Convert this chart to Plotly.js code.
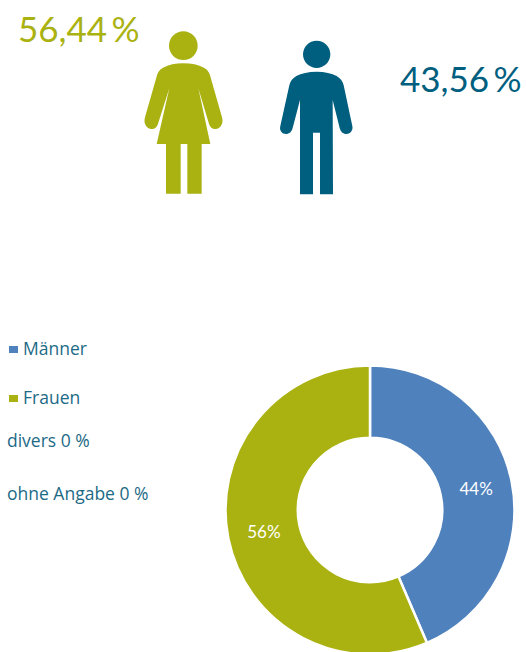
<!DOCTYPE html>
<html>
<head>
<meta charset="utf-8">
<script src="https://cdn.plot.ly/plotly-3.0.1.min.js"></script>
<style>html,body{margin:0;padding:0;background:#fff;overflow:hidden;height:652px}#c{width:526px;height:652px;overflow:hidden}</style>
</head>
<body>
<div id="c"></div>
<script>
const categories = ['Männer', 'Frauen'];
const values = [43.56, 56.44];
const sliceColors = ['#4f81bd', '#aab212'];
const headlineWoman = '56,44\u2009%';
const headlineMan = '43,56\u2009%';
const extraLabels = ['divers 0 %', 'ohne Angabe 0 %'];
const olive = '#aab212', teal = '#005f7f', labelTeal = '#1d6a86';
// the ring runs off the bottom of the page, so the plot is a little taller than the window
const W = 526, H = 662;

const px = (x, y) => (x / W).toFixed(5) + ',' + (1 - y / H).toFixed(5);
// icon outlines, traced in a 3x crop whose origin is at page (130,20)
const z = (x, y) => px(130 + x / 3, 20 + y / 3);
function iconPath(cmds) {
  return cmds.map(c => c[0] + ' ' + c.slice(1).map(p => z(p[0], p[1])).join(' ')).join(' ') + ' Z';
}
function circle(cx, cy, r) {
  const k = r * 0.5523;
  return iconPath([
    ['M', [cx + r, cy]],
    ['C', [cx + r, cy + k], [cx + k, cy + r], [cx, cy + r]],
    ['C', [cx - k, cy + r], [cx - r, cy + k], [cx - r, cy]],
    ['C', [cx - r, cy - k], [cx - k, cy - r], [cx, cy - r]],
    ['C', [cx + k, cy - r], [cx + r, cy - k], [cx + r, cy]]
  ]);
}
const womanBody = iconPath([
  ['M', [160, 130]],
  ['C', [185, 130], [205, 134], [222, 143]],
  ['C', [232, 148], [237, 156], [240, 166]],
  ['L', [276, 292]],
  ['C', [282, 312], [270, 327], [257, 327]],
  ['C', [246, 327], [239, 320], [236, 308]],
  ['L', [205, 205]],
  ['L', [241, 372]], ['L', [215, 372]], ['L', [215, 521]], ['L', [172, 521]], ['L', [172, 372]],
  ['L', [152, 372]], ['L', [152, 521]], ['L', [108, 521]], ['L', [108, 372]], ['L', [80, 372]],
  ['L', [118, 205]],
  ['L', [85, 308]],
  ['C', [82, 320], [75, 327], [64, 327]],
  ['C', [51, 327], [39, 312], [45, 292]],
  ['L', [81, 166]],
  ['C', [84, 156], [89, 148], [99, 143]],
  ['C', [116, 134], [136, 130], [160, 130]]
]);
const manBody = iconPath([
  ['M', [560, 155]],
  ['C', [585, 155], [605, 160], [620, 168]],
  ['C', [632, 175], [638, 184], [641, 196]],
  ['L', [667, 318]],
  ['C', [670, 332], [660, 342], [649, 342]],
  ['C', [639, 342], [632, 335], [629, 324]],
  ['L', [608, 240]],
  ['L', [609, 523]], ['L', [570, 523]], ['L', [570, 338]], ['L', [549, 338]], ['L', [549, 523]], ['L', [510, 523]],
  ['L', [510, 240]],
  ['L', [488, 324]],
  ['C', [485, 335], [478, 342], [468, 342]],
  ['C', [457, 342], [447, 332], [451, 318]],
  ['L', [478, 196]],
  ['C', [481, 184], [487, 175], [499, 168]],
  ['C', [514, 160], [535, 155], [560, 155]]
]);

const paperShape = (path, color) => ({type: 'path', xref: 'paper', yref: 'paper', path, fillcolor: color, line: {width: 0}});
const rect = (x0, y0, x1, y1, color) => ({type: 'rect', xref: 'paper', yref: 'paper', x0: x0 / W, x1: x1 / W, y0: 1 - y1 / H, y1: 1 - y0 / H, fillcolor: color, line: {width: 0}});
const note = (text, x, y, size, color, family) => ({
  text, xref: 'paper', yref: 'paper', x: x / W, y: 1 - y / H, xanchor: 'left', yanchor: 'middle',
  showarrow: false, font: {family: (family || 'Lato') + ', sans-serif', size, color}
});

const data = [{
  type: 'pie',
  labels: categories,
  values: values,
  sort: false,
  direction: 'clockwise',
  rotation: 0,
  hole: 0.5,
  marker: {colors: sliceColors, line: {color: '#ffffff', width: 2.5}},
  textinfo: 'percent',
  texttemplate: '%{percent:.0%}',
  textposition: 'inside',
  insidetextorientation: 'horizontal',
  textfont: {family: 'Lato, sans-serif', size: 17, color: '#ffffff'},
  domain: {x: [225.5 / W, 514.5 / W], y: [(H - 654.5) / H, (H - 365.5) / H]},
  showlegend: false
}];

const layout = {
  width: W, height: H,
  margin: {l: 0, r: 0, t: 0, b: 0},
  paper_bgcolor: '#ffffff',
  showlegend: false,
  shapes: [
    paperShape(circle(160, 77, 43), olive),
    paperShape(womanBody, olive),
    paperShape(circle(560, 103, 41), teal),
    paperShape(manBody, teal),
    rect(9, 346, 18, 353, sliceColors[0]),
    rect(9, 395, 18, 402, sliceColors[1])
  ],
  annotations: [
    note(headlineWoman, 16, 28, 35, olive),
    note(headlineMan, 398, 78, 35, teal),
    note(categories[0], 21, 348, 17.5, labelTeal, 'Open Sans'),
    note(categories[1], 21, 397, 17.5, labelTeal, 'Open Sans'),
    note(extraLabels[0], 5, 440, 17.5, labelTeal, 'Open Sans'),
    note(extraLabels[1], 5, 493, 17.5, labelTeal, 'Open Sans')
  ]
};
Plotly.newPlot('c', data, layout, {displayModeBar: false, staticPlot: true});
</script>
</body>
</html>
